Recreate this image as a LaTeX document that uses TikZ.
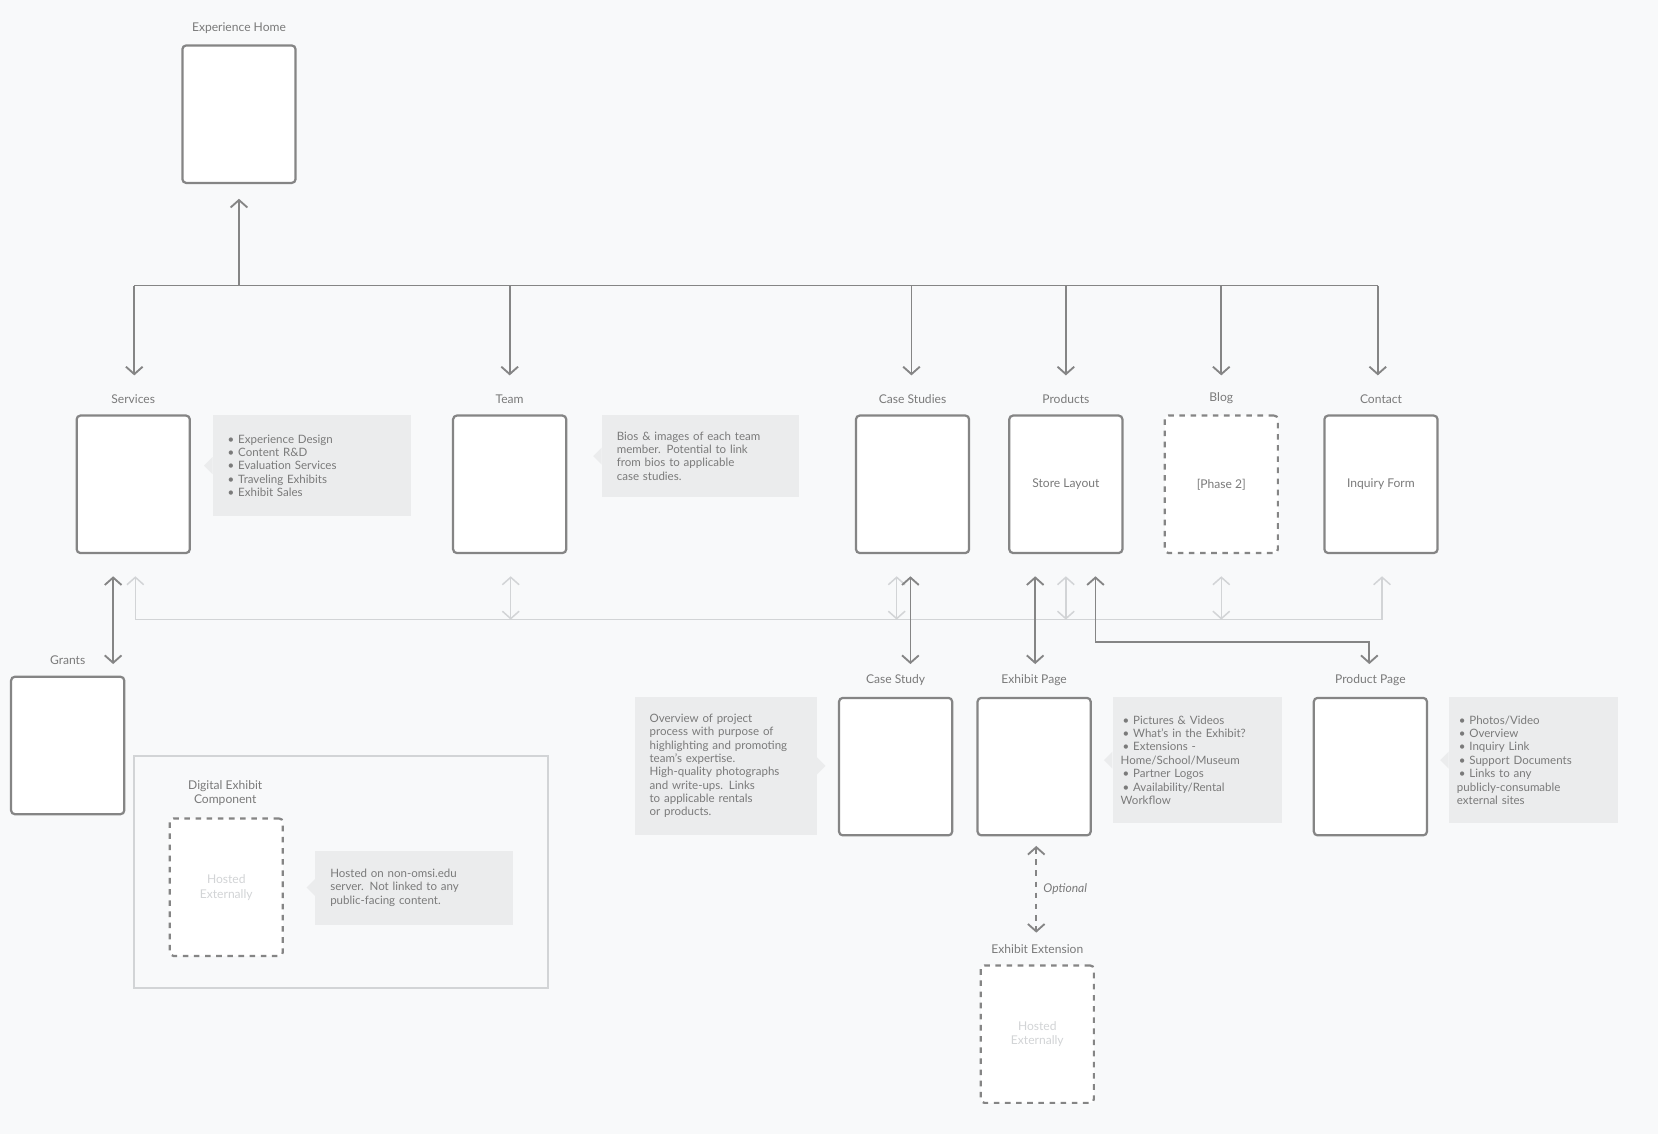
\documentclass[tikz,border=0pt]{standalone}
\usepackage{fontspec}
\setmainfont{Lato}
\usetikzlibrary{arrows.meta,calc}
\definecolor{bg}{HTML}{F8F9FA}
\definecolor{edge}{HTML}{858585}
\definecolor{pale}{HTML}{D2D4D6}
\definecolor{notefill}{HTML}{EBECED}
\definecolor{txt}{HTML}{7A7A7A}
\tikzset{
	page/.style={draw=edge, line width=1.2pt, fill=white, rounded corners=2pt,
		minimum width=2.14cm, minimum height=2.6cm, text=txt, font=\fontsize{6.5}{8}\selectfont, align=center},
	ghost/.style={page, dashed, text=pale},
	lbl/.style={text=txt, font=\fontsize{6.5}{8}\selectfont, label distance=2.5pt},
	note/.style={fill=notefill, text=txt, font=\fontsize{6.2}{7.2}\selectfont, align=left, anchor=north west, inner xsep=0.28cm},
	arr/.style={draw=edge, line width=1pt, -{Straight Barb[length=4pt,width=9pt]}},
	darr/.style={arr, {Straight Barb[length=4pt,width=9pt]}-{Straight Barb[length=4pt,width=9pt]}},
	parr/.style={darr, draw=pale, line width=0.8pt},
}
\begin{document}
\begin{tikzpicture}[x=0.02cm, y=-0.02cm]
			\fill[bg] (0,0) rectangle (1568,1072);
			
			% top page
			\node[page, label={[lbl]above:Experience Home}] (home) at (226,108) {};
			\coordinate (hub) at (226,270);
			\draw[arr] (hub) -- (226,188);
			
			% first level
			\node[page, label={[lbl]above:Services}] (services) at (126,458) {};
			\node[page, label={[lbl]above:Team}] (team) at (482,458) {};
			\node[page, label={[lbl]above:Case Studies}] (cases) at (863,458) {};
			\node[page, label={[lbl]above:Products}] (products) at (1008,458) {Store Layout};
			\node[ghost, text=txt, label={[lbl]above:Blog}] (blog) at (1155,458) {[Phase 2]};
			\node[page, label={[lbl]above:Contact}] (contact) at (1306,458) {Inquiry Form};
			
			\draw[draw=edge, line width=1pt] (127,270) -- (1303,270);
			\foreach \x in {127,482,862,1008,1155,1303}
				\draw[arr] (\x,270) -- (\x,355);
			
			% notes
			\node[note, minimum width=3.74cm, minimum height=1.92cm, text width=3.18cm] (servnote) at (201,392)
				{• Experience Design\\ • Content R\&D\\ • Evaluation Services\\ • Traveling Exhibits\\ • Exhibit Sales};
			\fill[notefill] (servnote.west) ++(0,-8) -- ++(-8,8) -- ++(8,8) -- cycle;
			\node[note, minimum width=3.72cm, minimum height=1.56cm, text width=3.16cm] (teamnote) at (569,392)
				{Bios \& images of each team\\ member. Potential to link\\ from bios to applicable\\ case studies.};
			\fill[notefill] (teamnote.west) ++(0,-8) -- ++(-8,8) -- ++(8,8) -- cycle;
			
			% pale cross links
			\draw[draw=pale, line width=0.8pt] (128,586) -- (1307,586);
			\draw[parr, {Straight Barb[length=4pt,width=9pt]}-] (128,545) -- (128,586);
			\draw[parr, {Straight Barb[length=4pt,width=9pt]}-] (1307,545) -- (1307,586);
			\foreach \x in {483,848,1008,1155}
				\draw[parr] (\x,545) -- (\x,586);
			
			% second level
			\node[page, label={[lbl]above:Grants}] (grants) at (64,705) {};
			\node[page, label={[lbl]above:Case Study}] (casestudy) at (847,725) {};
			\node[page, label={[lbl]above:Exhibit Page}] (exhibit) at (978,725) {};
			\node[page, label={[lbl]above:Product Page}] (product) at (1296,725) {};
			\node[ghost, label={[lbl]above:Exhibit Extension}] (extension) at (981,978) {Hosted\\Externally};
			
			\draw[darr] (107,545) -- (107,628);
			\draw[darr] (861,545) -- (861,628);
			\draw[darr] (979,545) -- (979,628);
			\draw[darr] (1036,545) -- (1036,607) -- (1295,607) -- (1295,628);
			\draw[darr, dashed] (980,800) -- node[right, lbl, font=\fontsize{6.5}{8}\selectfont\itshape] {Optional} (980,882);
			
			\node[note, minimum width=3.44cm, minimum height=2.6cm, text width=2.88cm] (csnote) at (600,659)
				{Overview of project\\ process with purpose of\\ highlighting and promoting\\ team’s expertise.\\ High-quality photographs\\ and write-ups. Links\\ to applicable rentals\\ or products.};
			\fill[notefill] (csnote.east) ++(0,-8) -- ++(8,8) -- ++(-8,8) -- cycle;
			\node[note, minimum width=3.2cm, minimum height=2.38cm, text width=2.9cm, inner xsep=0.15cm] (exnote) at (1052,659)
				{\,• Pictures \& Videos\\ \,• What’s in the Exhibit?\\ \,• Extensions -\\ Home/School/Museum\\ \,• Partner Logos\\ \,• Availability/Rental\\ Workflow};
			\fill[notefill] (exnote.west) ++(0,-8) -- ++(-8,8) -- ++(8,8) -- cycle;
			\node[note, minimum width=3.2cm, minimum height=2.38cm, text width=2.9cm, inner xsep=0.15cm] (prodnote) at (1370,659)
				{\,• Photos/Video\\ \,• Overview\\ \,• Inquiry Link\\ \,• Support Documents\\ \,• Links to any\\ publicly-consumable\\ external sites};
			\fill[notefill] (prodnote.west) ++(0,-8) -- ++(-8,8) -- ++(8,8) -- cycle;
			
			% digital exhibit group
			\draw[draw=pale, line width=1pt] (127,715) rectangle (518,934);
			\node[lbl, align=center] (dexlabel) at (213,750) {Digital Exhibit\\Component};
			\node[ghost] (digital) at (214,839) {Hosted\\Externally};
			\node[note, minimum width=3.74cm, minimum height=1.4cm, text width=3.18cm] (dexnote) at (298,804)
				{Hosted on non-omsi.edu\\ server. Not linked to any\\ public-facing content.};
			\fill[notefill] (dexnote.west) ++(0,-8) -- ++(-8,8) -- ++(8,8) -- cycle;
		\end{tikzpicture}
\end{document}
